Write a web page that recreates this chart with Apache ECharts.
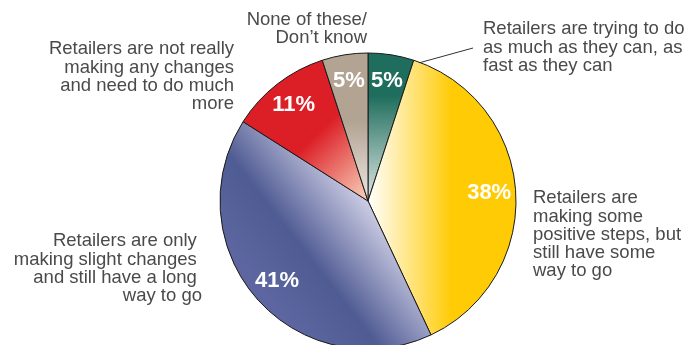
<!DOCTYPE html>
<html>
<head>
<meta charset="utf-8">
<script src="https://cdn.jsdelivr.net/npm/echarts@6/dist/echarts.min.js"></script>
<style>
  html, body { margin: 0; padding: 0; background: #fff; }
  #chart { width: 689px; height: 345px; }
</style>
</head>
<body>
<div id="chart"></div>
<script>
// Survey answers, clockwise from 12 o'clock
const categories = [
  'Retailers are trying to do\nas much as they can, as\nfast as they can',
  'Retailers are\nmaking some\npositive steps, but\nstill have some\nway to go',
  'Retailers are only \nmaking slight changes \nand still have a long \nway to go',
  'Retailers are not really\nmaking any changes\nand need to do much\nmore',
  'None of these/\nDon\u2019t know'
];
const shares = [5, 38, 41, 11, 5];

// Pie geometry (px)
const CX = 368, CY = 201, R = 148;

function grad(x, y, x2, y2, stops) {
  return {
    type: 'linear', x: x, y: y, x2: x2, y2: y2, global: true,
    colorStops: stops.map(function (s) { return { offset: s[0], color: s[1] }; })
  };
}

// Shaded fills per slice
const fills = [
  grad(0, CY - 5, 0, CY - 105, [[0, '#d7e2de'], [1, '#1f6e5d']]),
  grad(CX, 0, CX + 84, 0, [[0, '#ffffff'], [1, '#ffcb05']]),
  grad(CX, CY, CX - 110, CY + 86, [[0, '#cdcde4'], [0.58, '#4f5b93'], [1, '#5d66a0']]),
  grad(CX - 4, CY - 8, CX - 56, CY - 62, [[0, '#f6c2ad'], [1, '#dc1f27']]),
  grad(0, CY - 5, 0, CY - 80, [[0, '#e9e4df'], [1, '#b2a392']])
];

// Where each answer's caption sits: [x, y, align]
const captionPos = [
  [483, 20, 'left'],
  [533, 189, 'left'],
  [202, 232, 'right'],
  [234, 40, 'right'],
  [367, 10.5, 'right']
];

const total = shares.reduce(function (a, b) { return a + b; }, 0);

function leaderStart() {
  // point inside the first slice, toward its trailing edge
  const a = (shares[0] / total) * 0.73 * 2 * Math.PI;
  const r = R * 0.92;
  return [CX + r * Math.sin(a), CY - r * Math.cos(a)];
}

const chart = echarts.init(document.getElementById('chart'), null, { renderer: 'canvas' });

chart.setOption({
  animation: false,
  backgroundColor: '#ffffff',
  series: [
    {
      type: 'pie',
      center: [CX, CY],
      radius: R,
      startAngle: 90,
      clockwise: true,
      avoidLabelOverlap: false,
      silent: true,
      itemStyle: { borderColor: '#1a1a1a', borderWidth: 1 },
      label: {
        show: true,
        position: 'outside',
        formatter: function (p) { return categories[p.dataIndex]; },
        fontFamily: 'Liberation Sans, Arial, sans-serif',
        fontSize: 18.5,
        lineHeight: 18.3,
        color: '#4a4a4a'
      },
      labelLine: { show: false, lineStyle: { color: '#333', width: 1 } },
      labelLayout: function (p) {
        const pos = captionPos[p.dataIndex];
        const out = { x: pos[0], y: pos[1], align: pos[2], verticalAlign: 'top' };
        if (p.dataIndex === 0) {
          out.labelLinePoints = [leaderStart(), [473, 48], [473, 48]];
        }
        return out;
      },
      data: shares.map(function (v, i) {
        const item = { value: v, name: categories[i], itemStyle: { color: fills[i] } };
        if (i === 0) item.labelLine = { show: true };
        return item;
      })
    },
    {
      // transparent ring carrying the percentage labels
      type: 'pie',
      center: [CX, CY],
      radius: [R * 0.6, R],
      startAngle: 90,
      clockwise: true,
      avoidLabelOverlap: false,
      silent: true,
      itemStyle: { color: 'rgba(0,0,0,0)', borderWidth: 0 },
      label: {
        show: true,
        position: 'inside',
        formatter: '{c}%',
        fontFamily: 'Liberation Sans, Arial, sans-serif',
        fontWeight: 'bold',
        fontSize: 22,
        color: '#ffffff'
      },
      labelLine: { show: false },
      data: shares.map(function (v, i) { return { value: v, name: categories[i] }; })
    }
  ]
});
</script>
</body>
</html>
